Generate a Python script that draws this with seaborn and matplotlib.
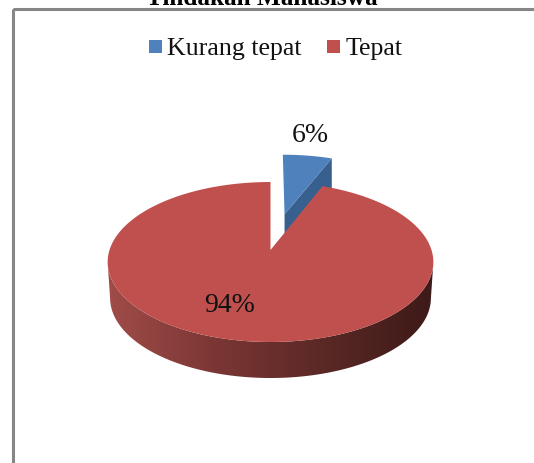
import matplotlib
matplotlib.use('Agg')
import matplotlib.pyplot as plt
import numpy as np
import seaborn as sns
from matplotlib.patches import Polygon, Rectangle

title = 'Tindakan Mahasiswa'
categories = ['Kurang tepat', 'Tepat']
shares = [6, 94]
labels = ['6%', '94%']

sns.set_theme(style='white')
plt.rcParams['font.family'] = ['Liberation Serif', 'DejaVu Serif']
colors = sns.color_palette(['#4f81bd', '#c0504d'])
blue_dark = '#38608f'

fig = plt.figure(figsize=(5.34, 4.63), dpi=100)
ax = fig.add_axes([0, 0, 1, 1])
ax.set_axis_off()

#Pie is a flat disc seen in perspective, everything below is in pixels of the picture
cx, cy = 270.5, 250
persp = 0.15
kx, ky = 161, 78.2
depth = 36
explode = 0.5


def project(clock_deg, r=1.0, off=(0, 0)):
    t = np.radians(clock_deg)
    u = r * np.sin(t) + off[0]
    v = r * np.cos(t) + off[1]
    d = 1 + persp * v
    return cx + kx * u / d, cy - ky * v / d


def wedge(start, stop, off=(0, 0)):
    a = np.linspace(start, stop, 200)
    x, y = project(a, off=off)
    ax0, ay0 = project(0, r=0, off=off)
    return np.column_stack([np.r_[ax0, x], np.r_[ay0, y]])


split = 360 * shares[0] / sum(shares)

#Blue slice, pulled out along its middle
mid = np.radians(split / 2)
off = (explode * np.sin(mid), explode * np.cos(mid))
blue_top = wedge(0, split, off)
apex = blue_top[0]
rim = blue_top[-1]
cut_face = np.array([apex, rim, rim + [0, depth], apex + [0, depth]])
ax.add_patch(Polygon(cut_face, fc=blue_dark, ec='none'))
ax.add_patch(Polygon(blue_top, fc=colors[0], ec='none'))

#Red wall with the left to right shading
a = np.linspace(0, 360, 721)
wx, wy = project(a)
front = wy > cy + 12
order = np.argsort(wx[front])
top_x, top_y = wx[front][order], wy[front][order]
wall = np.r_[np.column_stack([top_x, top_y]),
             np.column_stack([cx + (top_x - cx) * 0.985, top_y + depth])[::-1]]
wall_patch = Polygon(wall, fc='none', ec='none')
ax.add_patch(wall_patch)
shade = matplotlib.colors.LinearSegmentedColormap.from_list(
    'wall', ['#a04c49', '#7a3634', '#5a2825', '#3d1a18'])
im = ax.imshow(np.linspace(0, 1, 256).reshape(1, -1), cmap=shade, aspect='auto',
               extent=(wall[:, 0].min(), wall[:, 0].max(), wall[:, 1].max(), wall[:, 1].min()))
im.set_clip_path(wall_patch)

#Red top
ax.add_patch(Polygon(wedge(split, 360), fc=colors[1], ec='none', zorder=3))

ax.text(310, 135, labels[0], fontsize=20, ha='center', va='center', color='#111111', zorder=4)
ax.text(230, 306, labels[1], fontsize=20, ha='center', va='center', color='#111111', zorder=4)

#Frame runs off the picture to the right and at the bottom
ax.add_patch(Rectangle((12.5, 9), 600, 600, fc='none', ec='#868686', lw=2.2, zorder=5))

ax.text(262, 5, title, fontsize=18.2, fontweight='bold', ha='center', va='baseline', color='black', zorder=6)

#Legend
ax.add_patch(Rectangle((149, 40), 13, 13, fc=colors[0], ec='none', zorder=5))
ax.add_patch(Rectangle((327, 40), 13, 13, fc=colors[1], ec='none', zorder=5))
ax.text(167, 55, categories[0], fontsize=18.6, ha='left', va='baseline', color='#111111', zorder=5)
ax.text(346, 55, categories[1], fontsize=18.6, ha='left', va='baseline', color='#111111', zorder=5)

ax.set_xlim(0, 534)
ax.set_ylim(463, 0)
fig.savefig('out.png', dpi=100, facecolor='white')
